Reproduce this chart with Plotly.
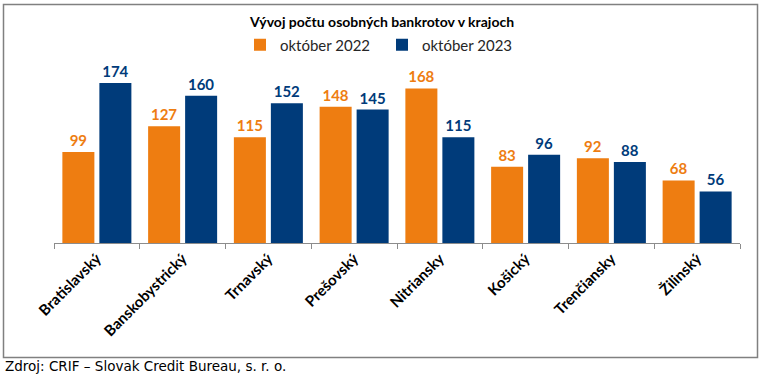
import plotly.graph_objects as go

regions = ["Bratislavský", "Banskobystrický", "Trnavský", "Prešovský",
           "Nitriansky", "Košický", "Trenčiansky", "Žilinský"]
oct_2022 = [99, 127, 115, 148, 168, 83, 92, 68]
oct_2023 = [174, 160, 152, 145, 115, 96, 88, 56]
series_names = ["október 2022", "október 2023"]
title_text = "Vývoj počtu osobných bankrotov v krajoch"
source_text = "Zdroj: CRIF – Slovak Credit Bureau, s. r. o."

ORANGE = "#EE7D11"
NAVY = "#003B7A"
FONT = "Lato, 'Open Sans', sans-serif"

fig = go.Figure()
for name, vals, col in [(series_names[0], oct_2022, ORANGE), (series_names[1], oct_2023, NAVY)]:
    fig.add_trace(go.Bar(
        x=regions, y=vals, name=name, marker=dict(color=col, line=dict(width=0)),
        text=vals, textposition="outside", cliponaxis=False,
        textfont=dict(family=FONT, size=15, color=col, weight="bold"),
    ))

W, H = 761, 375
L, R, T, B = 54, 21, 59, 132
pw, ph = W - L - R, H - T - B

def px(x):
    return (x - L) / pw

def py(y):
    return (H - B - y) / ph

fig.update_layout(
    width=W, height=H,
    margin=dict(l=L, r=R, t=T, b=B, autoexpand=False),
    paper_bgcolor="white", plot_bgcolor="white",
    barmode="group", bargap=0.137, bargroupgap=0.135,
    font=dict(family=FONT, color="#000000"),
    title=dict(text="<b>" + title_text + "</b>", x=px(382), xanchor="center",
               y=1 - 22 / H, yanchor="middle", xref="paper", yref="container",
               font=dict(family=FONT, size=14, color="#000000")),
    showlegend=True,
    legend=dict(orientation="h", x=px(382), xanchor="center", y=py(45), yanchor="middle",
                font=dict(family=FONT, size=15, color="#262626"),
                itemwidth=30, bgcolor="rgba(0,0,0,0)", traceorder="normal",
                entrywidth=97, entrywidthmode="pixels"),
    xaxis=dict(type="category", tickangle=-45, tickson="boundaries",
               ticks="outside", ticklen=5, tickcolor="#8c8c8c",
               showline=True, linecolor="#8c8c8c", linewidth=1,
               tickfont=dict(family=FONT, size=15, color="#000000", weight="bold"),
               showgrid=False),
    yaxis=dict(range=[0, 200], visible=False, showgrid=False),
    shapes=[dict(type="rect", xref="paper", yref="paper",
                 x0=px(3.5), x1=px(757.5), y0=py(357.5), y1=py(4.5),
                 line=dict(color="#808080", width=1.5), fillcolor="rgba(0,0,0,0)",
                 layer="below")],
    annotations=[dict(text=source_text, xref="paper", yref="paper",
                      x=px(3), xanchor="left", y=py(366), yanchor="middle",
                      showarrow=False,
                      font=dict(family="'DejaVu Sans', Verdana, sans-serif", size=13.5, color="#000000"))],
)

fig.write_html("out.html", config={"displayModeBar": False},
               post_script="document.body.style.margin='0';document.body.style.padding='0';document.body.style.overflow='hidden';")
